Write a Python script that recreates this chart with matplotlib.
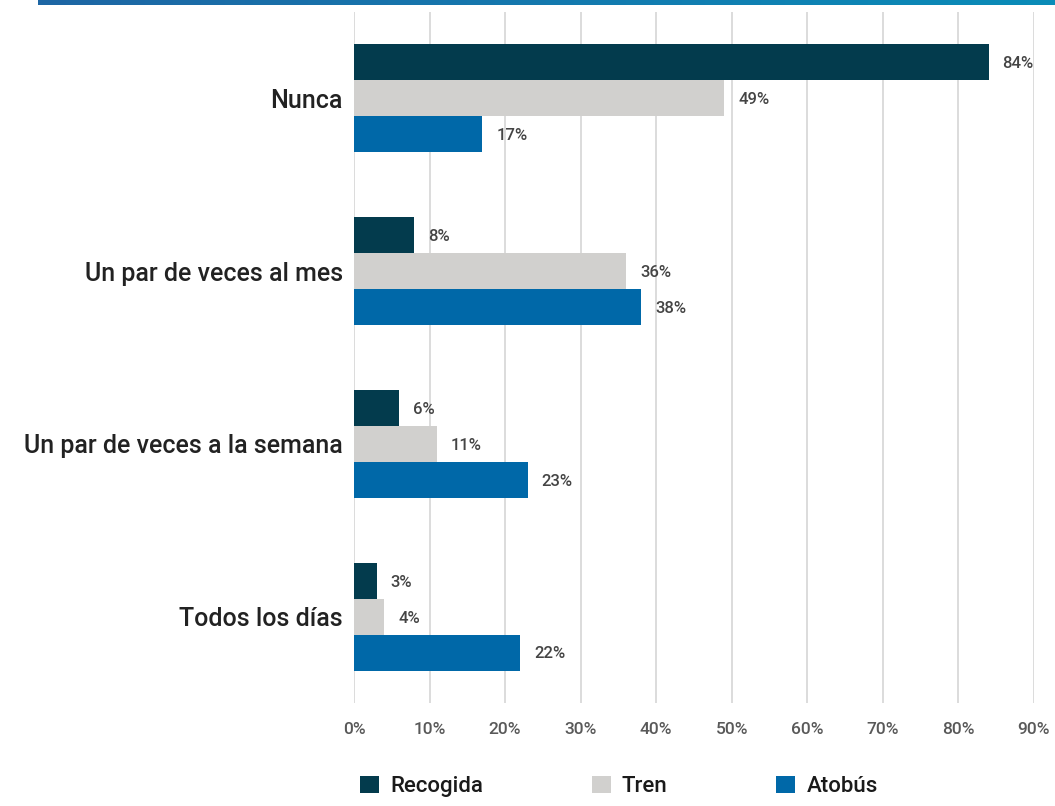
import numpy as np
import matplotlib
matplotlib.use('Agg')
import matplotlib.pyplot as plt

# Datos
categorias = ['Todos los días', 'Un par de veces a la semana', 'Un par de veces al mes', 'Nunca']
recogida = [3, 6, 8, 84]
tren = [4, 11, 36, 49]
atobus = [22, 23, 38, 17]
series = ['Recogida', 'Tren', 'Atobús']
colores = ['#033b4d', '#d1d0ce', '#0068a8']
ticks_x = [0, 10, 20, 30, 40, 50, 60, 70, 80, 90]

plt.rcParams['font.family'] = ['Roboto', 'DejaVu Sans']

fig = plt.figure(figsize=(10.55, 8.06), dpi=100)
ax = fig.add_axes([354 / 1055, 1 - 703 / 806, 680 / 1055, 691 / 806])

# Franja superior con degradado
banda = fig.add_axes([38 / 1055, 1 - 5 / 806, 1 - 38 / 1055, 5 / 806])
banda.imshow(np.linspace(0, 1, 256).reshape(1, -1), aspect='auto',
             cmap=matplotlib.colors.LinearSegmentedColormap.from_list('b', ['#1e66a4', '#0a8cb8']))
banda.axis('off')

y = np.arange(len(categorias))
alto = 0.208
offsets = [alto, 0, -alto]
for valores, nombre, color, off in zip([recogida, tren, atobus], series, colores, offsets):
    barras = ax.barh(y + off, valores, height=alto, color=color, label=nombre, zorder=3)
    for b, v in zip(barras, valores):
        ax.annotate(f'{v}%', (b.get_width(), b.get_y() + b.get_height() / 2),
                    xytext=(10, -1), textcoords='offset points', va='center', ha='left',
                    fontsize=12, color='#444444', fontweight='medium')

ax.set_xlim(0, 90)
ax.set_ylim(-0.5, 3.5)
ax.set_xticks(ticks_x)
ax.set_xticklabels([f'{t}%' for t in ticks_x], fontsize=12.5, color='#595959', fontweight='medium')
ax.set_yticks(y)
ax.set_yticklabels(categorias, fontsize=18, color='#222222', fontweight='medium')
ax.tick_params(axis='both', length=0)
ax.tick_params(axis='x', pad=14)
ax.tick_params(axis='y', pad=8)
ax.grid(axis='x', color='#d9d9d9', linewidth=1.3, zorder=0)
ax.set_axisbelow(True)
for s in ax.spines.values():
    s.set_visible(False)

fig.legend(loc='lower left', bbox_to_anchor=(340 / 1055, -0.014), ncol=3, frameon=False,
           prop={'size': 16, 'weight': 'medium'}, handlelength=0.85, handleheight=0.85,
           handletextpad=0.5, columnspacing=4.9, labelcolor='#1a1a1a')

plt.savefig('out.png', dpi=100)
